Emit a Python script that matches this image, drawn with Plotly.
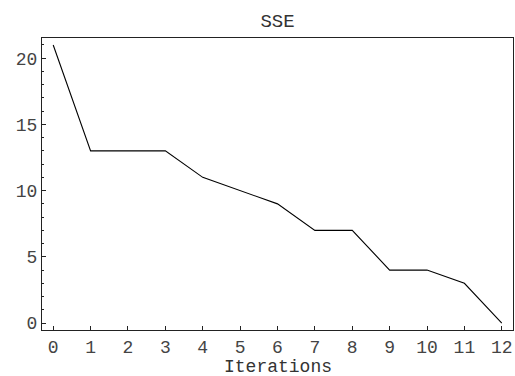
import plotly.graph_objects as go

iterations = [0, 1, 2, 3, 4, 5, 6, 7, 8, 9, 10, 11, 12]
sse = [21, 13, 13, 13, 11, 10, 9, 7, 7, 4, 4, 3, 0]
x_ticks = list(range(0, 13))
y_ticks = [0, 5, 10, 15, 20]

FONT = "Courier New, Liberation Mono, monospace"
FS = 18

fig = go.Figure()
fig.add_trace(go.Scatter(x=iterations, y=sse, mode="lines",
                         line=dict(color="black", width=1.1), showlegend=False))

fig.update_layout(
    width=515, height=376,
    margin=dict(l=42, r=2, t=38, b=46),
    paper_bgcolor="white", plot_bgcolor="white",
    font=dict(family=FONT, size=FS, color="#444444"),
    title=dict(text="SSE", x=0.539, xanchor="center", y=0.947, yanchor="middle",
               font=dict(family=FONT, size=19, color="#333333")),
)
fig.add_annotation(text="Iterations", xref="paper", yref="paper", x=0.5, y=0,
                   xanchor="center", yanchor="middle", yshift=-36.5, showarrow=False,
                   borderpad=0, font=dict(family=FONT, size=18, color="#333333"))
fig.update_xaxes(
    automargin=False,
    range=[-0.3, 12.3], tickvals=x_ticks, ticktext=[str(v) for v in x_ticks],
    ticks="inside", ticklen=4, tickcolor="#222222", tickwidth=1,
    showline=True, linecolor="#222222", linewidth=1.2, mirror=True,
    showgrid=False, zeroline=False,
)
fig.update_yaxes(
    automargin=False,
    range=[-0.525, 21.525], tickvals=y_ticks, ticktext=[str(v) for v in y_ticks],
    ticks="inside", ticklen=4, tickcolor="#222222", tickwidth=1,
    minor=dict(dtick=1, tick0=0, ticks="inside", ticklen=2, tickcolor="#222222", showgrid=False),
    showline=True, linecolor="#222222", linewidth=1.2, mirror=True,
    showgrid=False, zeroline=False,
)

fig.write_html("out.html", config={"displayModeBar": False},
               post_script="document.body.style.margin='0';document.body.style.overflow='hidden';")
